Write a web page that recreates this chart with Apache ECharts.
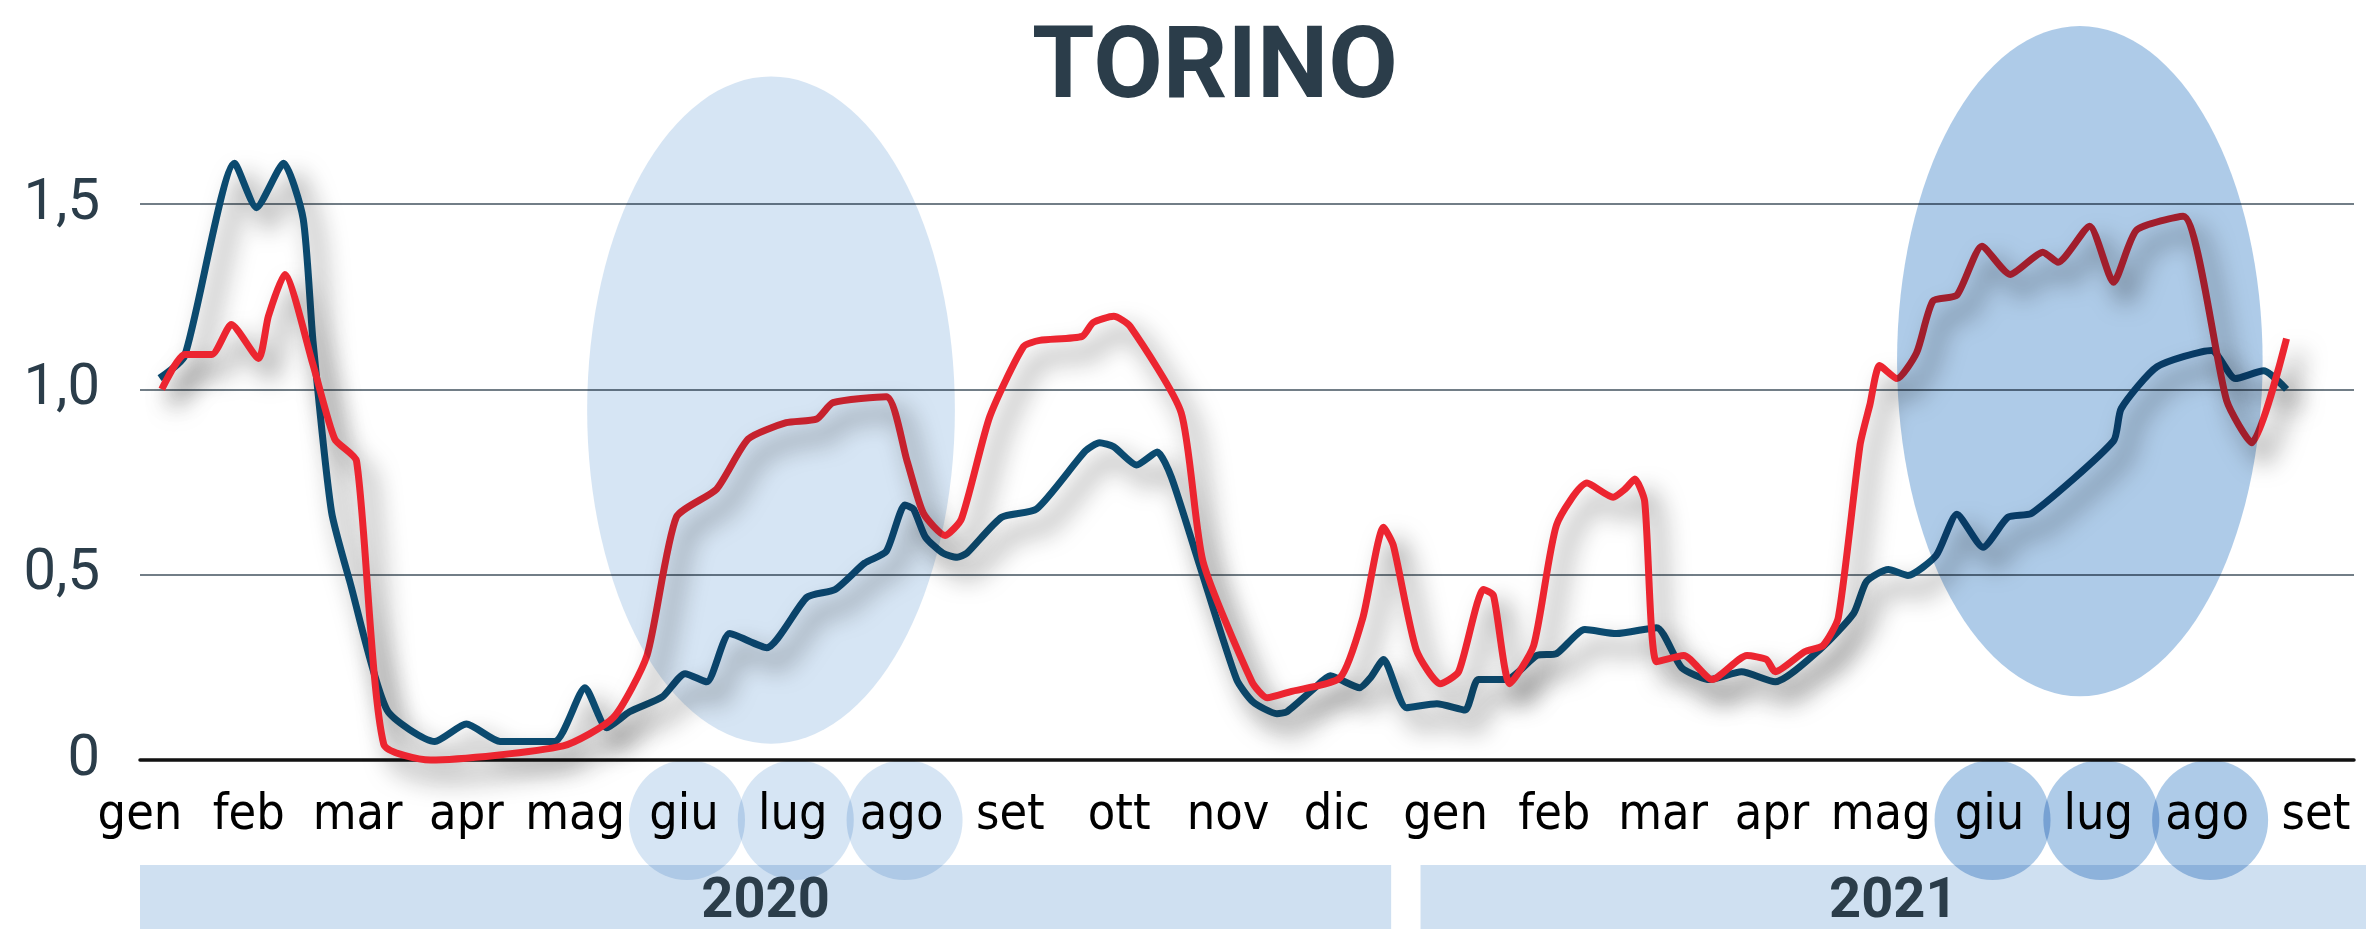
<!DOCTYPE html>
<html>
<head>
<meta charset="utf-8">
<script src="https://cdn.jsdelivr.net/npm/echarts@6/dist/echarts.min.js"></script>
<style>
html,body{margin:0;padding:0;background:#fff;}
#chart{width:2366px;height:929px;}
</style>
</head>
<body>
<div id="chart"></div>
<script>
// ---------- DATA ----------
const monthLabels = ['gen','feb','mar','apr','mag','giu','lug','ago','set','ott','nov','dic',
                     'gen','feb','mar','apr','mag','giu','lug','ago','set'];
const yTickValues = [0, 0.5, 1, 1.5];
const yTickLabels = ['0', '0,5', '1,0', '1,5'];
const title = 'TORINO';
const years = ['2020', '2021'];

// x = months since January 2020 (0 = gen 2020)
const blueX = [0.18,0.41,0.87,1.07,1.32,1.50,1.59,1.76,1.93,2.27,2.71,3.00,3.31,3.81,4.09,4.29,4.50,4.80,5.01,5.21,5.42,5.76,6.13,6.39,6.66,6.86,7.03,7.11,7.22,7.38,7.51,7.60,7.92,8.24,8.69,8.82,8.95,9.16,9.35,9.48,9.74,10.08,10.23,10.45,10.54,10.78,10.94,11.03,11.21,11.31,11.43,11.64,11.92,12.18,12.30,12.56,12.84,13.02,13.28,13.57,13.94,14.17,14.43,14.72,15.03,15.44,15.75,15.87,16.07,16.25,16.51,16.70,16.94,17.17,17.39,18.14,18.21,18.54,19.04,19.26,19.52,19.73];
const blueY = [1.03,1.09,1.61,1.49,1.61,1.46,1.13,0.67,0.48,0.135,0.05,0.097,0.05,0.05,0.195,0.087,0.13,0.17,0.233,0.211,0.341,0.303,0.439,0.46,0.531,0.563,0.688,0.677,0.601,0.558,0.547,0.558,0.655,0.677,0.834,0.856,0.845,0.796,0.831,0.763,0.525,0.217,0.157,0.125,0.13,0.19,0.227,0.217,0.195,0.222,0.271,0.141,0.152,0.135,0.217,0.217,0.282,0.287,0.352,0.341,0.357,0.249,0.217,0.238,0.211,0.298,0.395,0.482,0.514,0.498,0.552,0.663,0.574,0.655,0.666,0.861,0.948,1.061,1.105,1.029,1.05,1.0];

const redX = [0.20,0.41,0.66,0.84,1.09,1.18,1.33,1.59,1.79,1.99,2.24,2.67,3.89,4.35,4.66,4.93,5.30,5.59,5.94,6.22,6.37,6.86,7.05,7.20,7.40,7.55,7.81,8.12,8.27,8.66,8.76,8.95,9.10,9.57,9.77,10.22,10.36,10.57,11.03,11.24,11.43,11.52,11.73,11.95,12.12,12.35,12.44,12.59,12.81,13.02,13.30,13.54,13.65,13.74,13.83,13.94,14.19,14.45,14.77,14.95,15.03,15.30,15.47,15.61,15.81,15.90,15.99,16.15,16.33,16.48,16.70,16.93,17.19,17.49,17.63,17.92,18.14,18.35,18.78,19.18,19.41,19.73];
const redY = [1.0,1.094,1.094,1.175,1.083,1.197,1.31,1.067,0.866,0.807,0.043,0.0,0.038,0.114,0.282,0.655,0.731,0.866,0.91,0.92,0.964,0.98,0.807,0.666,0.606,0.65,0.926,1.115,1.132,1.143,1.18,1.197,1.17,0.937,0.536,0.211,0.168,0.184,0.222,0.384,0.628,0.579,0.298,0.206,0.238,0.46,0.444,0.206,0.309,0.634,0.747,0.709,0.731,0.758,0.698,0.265,0.282,0.217,0.282,0.271,0.238,0.292,0.309,0.384,0.85,0.958,1.064,1.029,1.099,1.238,1.254,1.386,1.31,1.37,1.343,1.44,1.289,1.429,1.467,0.969,0.856,1.137];

// highlighted summers: [centre month, centre value, half-width (months), half-height (value)]
const summerEllipses = [[5.80, 0.944, 1.69, 0.90], [17.83, 1.076, 1.68, 0.904]];
const summerMonths = [[5,6,7],[17,18,19]];
const yearSpans = [[0, 11.5], [11.77, 21.8]];

// ---------- CHART ----------
const chart = echarts.init(document.getElementById('chart'), null, {renderer:'canvas'});
const BLUE = '#0b4a6f', RED = '#ec2530', SLATE = '#2b3d4a';
const shadow = {shadowColor:'rgba(20,20,20,0.6)', shadowBlur:24, shadowOffsetX:12, shadowOffsetY:16};

chart.setOption({
  backgroundColor:'#ffffff',
  animation:false,
  grid:{left:140, right:12, top:204, bottom:169},
  xAxis:{
    type:'value', min:0, max:20.35, interval:1,
    axisLine:{show:true, lineStyle:{color:'#111', width:3.5}},
    axisTick:{show:false},
    splitLine:{show:false},
    axisLabel:{
      showMinLabel:true, showMaxLabel:false,
      margin:31, color:'#000', fontSize:50, fontFamily:'DejaVu Sans Condensed, DejaVu Sans, sans-serif',
      formatter:v => (Number.isInteger(v) && v < monthLabels.length) ? monthLabels[v] : ''
    }
  },
  yAxis:{
    type:'value', min:0, max:1.5, interval:0.5,
    axisLine:{show:false}, axisTick:{show:false},
    splitLine:{lineStyle:{color:'#43535f', width:1.5}},
    axisLabel:{
      margin:40, color:SLATE, fontSize:58, fontFamily:'Roboto, sans-serif',
      formatter:v => { const i = yTickValues.indexOf(v); return i >= 0 ? yTickLabels[i] : ''; }
    }
  },
  series:[
    {type:'line', data:blueX.map((x,i)=>[x, blueY[i]]), showSymbol:false, clip:false, smooth:0.2,
     lineStyle:Object.assign({color:BLUE, width:7, join:'round'}, shadow), z:3},
    {type:'line', data:redX.map((x,i)=>[x, redY[i]]), showSymbol:false, clip:false, smooth:0.2,
     lineStyle:Object.assign({color:RED, width:7, join:'round'}, shadow), z:4}
  ]
});

function px(m, v){ return chart.convertToPixel({gridIndex:0}, [m, v]); }
const axisY = px(0,0)[1];
const unitX = px(1,0)[0] - px(0,0)[0];
const graphics = [];

// year bands
years.forEach((yr, i) => {
  const x0 = px(yearSpans[i][0],0)[0], x1 = px(yearSpans[i][1],0)[0];
  graphics.push({type:'rect', z:1, shape:{x:x0, y:axisY+105, width:x1-x0, height:80}, style:{fill:'#cfe0f1'}});
  graphics.push({type:'text', z:20, x:(x0 + Math.min(x1, 2366))/2, y:axisY+143,
    style:{text:yr, fill:SLATE, font:'bold 56px Roboto, sans-serif', textAlign:'center', textVerticalAlign:'middle', verticalAlign:'middle'}});
});

// large summer ellipses (multiply overlay)
const ellColors = ['#d6e5f4', '#aecbe8'];
summerEllipses.forEach((e, i) => {
  const c = px(e[0], e[1]);
  const rx = e[2]*unitX;
  const ry = px(0,0)[1] - px(0,e[3])[1];
  graphics.push({type:'circle', z:10, x:c[0], y:c[1], scaleX:rx/ry, scaleY:1,
    shape:{cx:0, cy:0, r:ry}, style:{fill:ellColors[i], blend:'multiply'}});
});

// small circles behind summer month labels
summerMonths.forEach((ms, i) => {
  ms.forEach(m => {
    const cx = px(m,0)[0] + 3;
    graphics.push({type:'circle', z:10, x:cx, y:axisY+60, scaleX:58/60, scaleY:1,
      shape:{cx:0, cy:0, r:60}, style:{fill:ellColors[i], blend:'multiply'}});
  });
});

// title
graphics.push({type:'text', z:20, x:1215, y:72,
  style:{text:title, fill:SLATE, font:'bold 101px Roboto, sans-serif', textAlign:'center', textVerticalAlign:'middle', verticalAlign:'middle'}});

chart.setOption({graphic:graphics});
</script>
</body>
</html>
